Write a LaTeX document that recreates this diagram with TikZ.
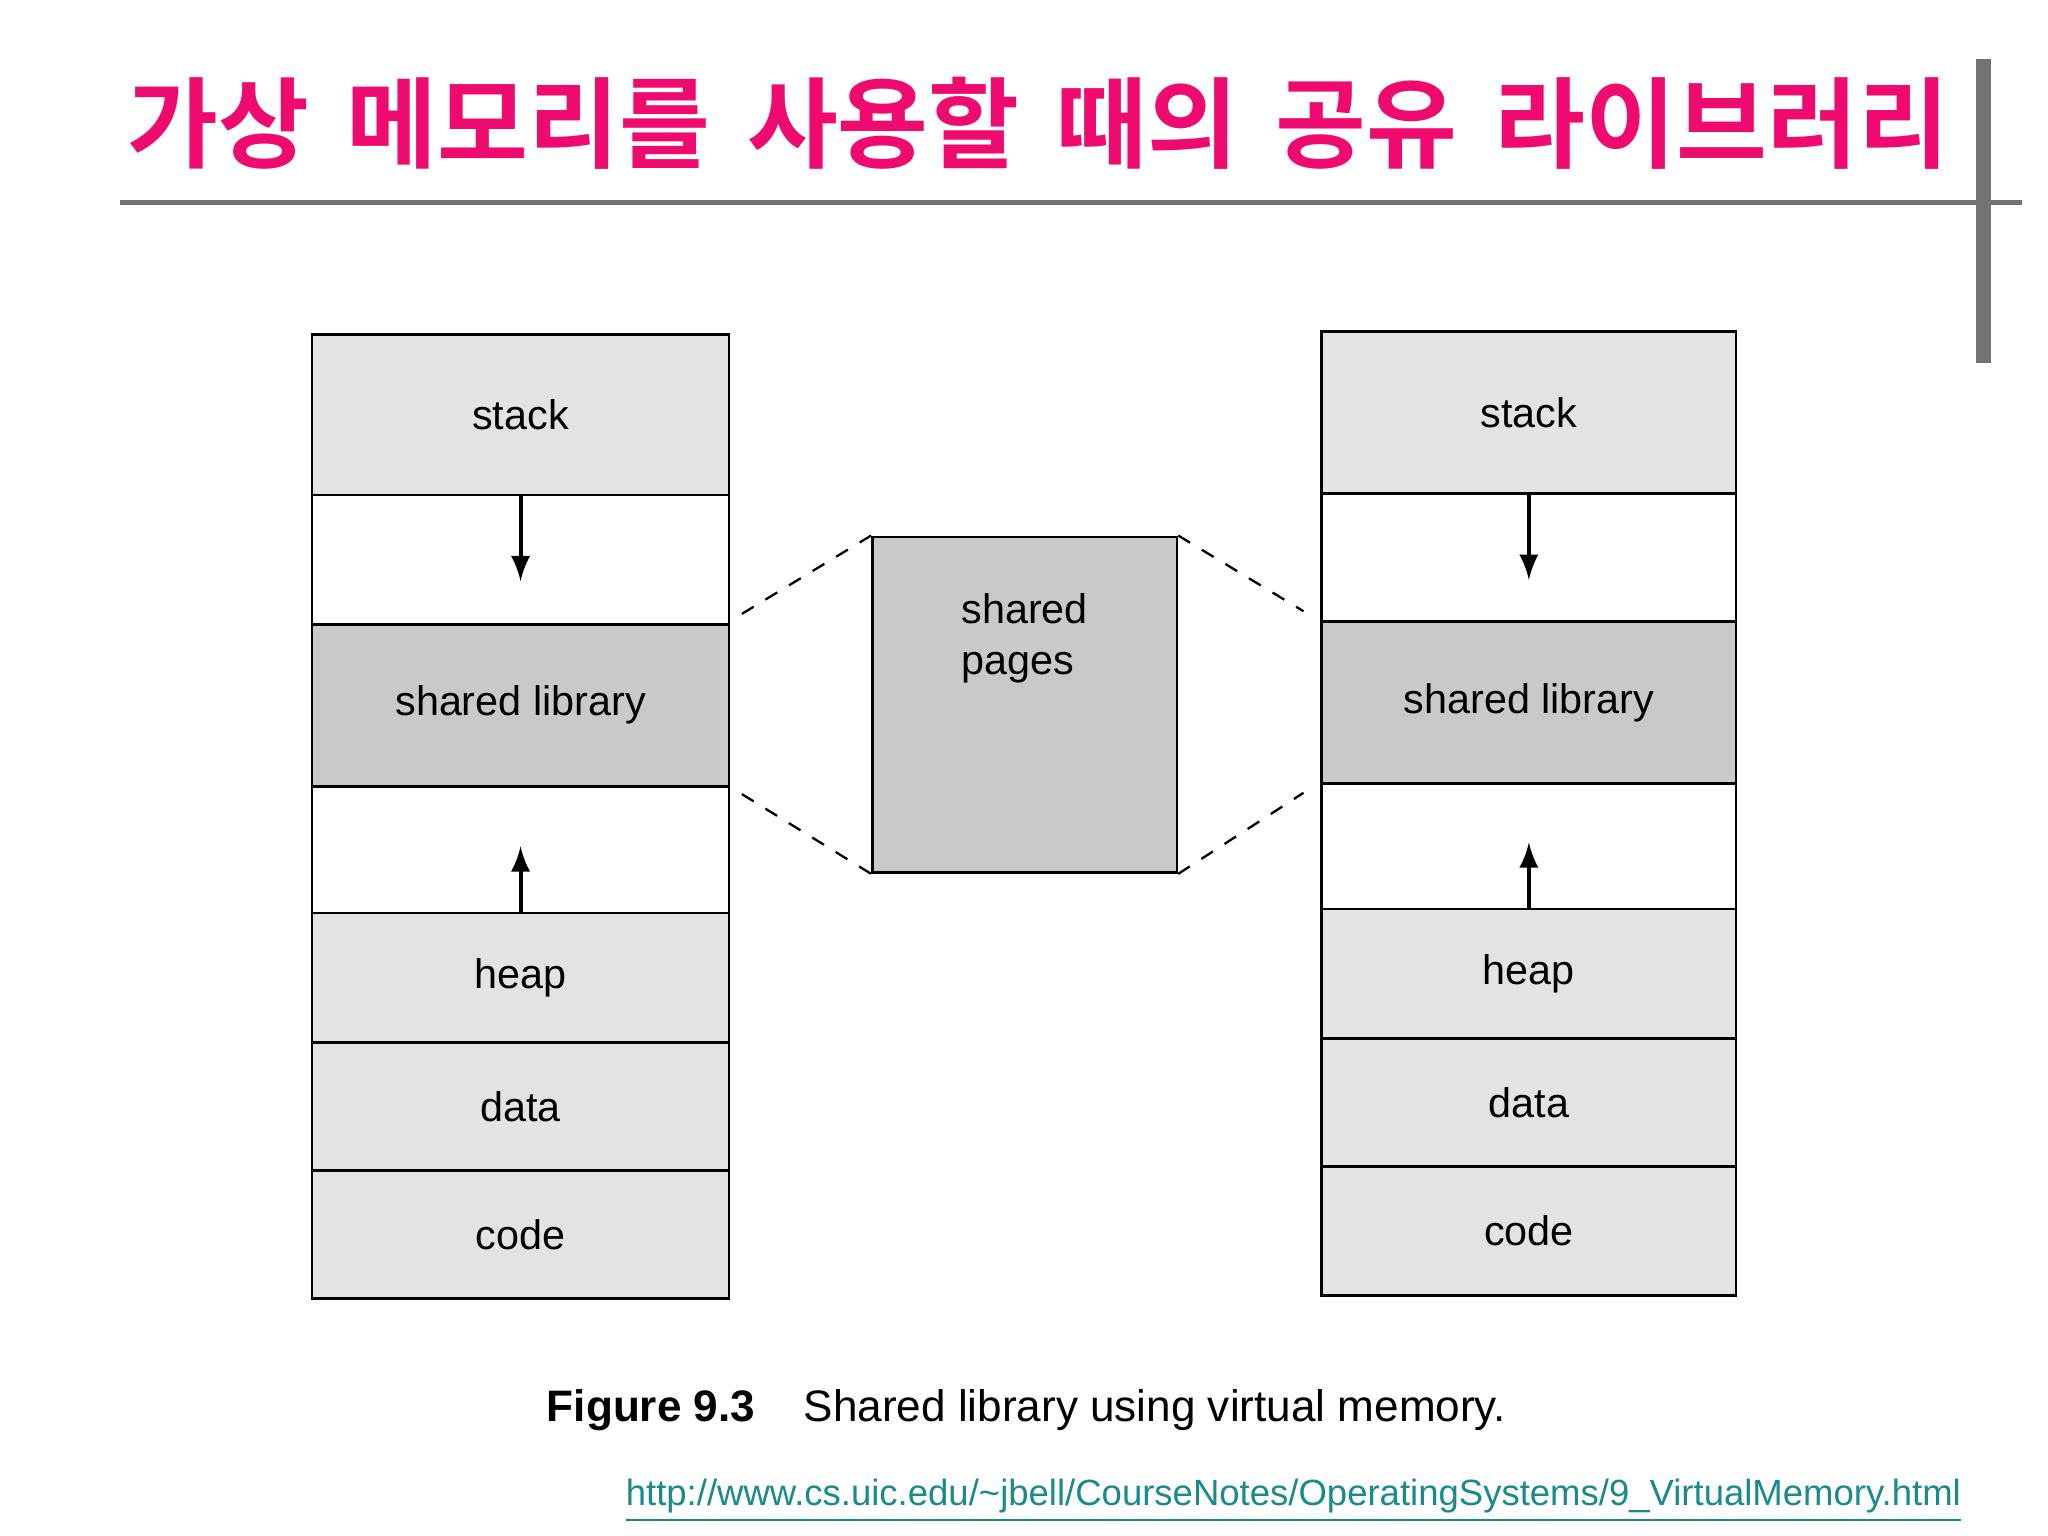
\documentclass[tikz,border=0pt]{standalone}
\usepackage{fontspec}
\setmainfont{Liberation Sans}
\newfontfamily\kr{Noto Sans CJK KR}[BoldFont={* Bold}]
\definecolor{ttl}{HTML}{EE0A6E}
\definecolor{lnk}{HTML}{1A8A8A}
\begin{document}
\begin{tikzpicture}[x=0.01cm,y=-0.01cm,
  cell/.style={draw=black,line width=0.55pt,fill=gray!22,anchor=north west,inner sep=0,font=\fontsize{9}{11}\selectfont},
  libcell/.style={cell,fill=gray!42},
  gap/.style={cell,fill=white},
  dsh/.style={dashed,line width=0.5pt},
  arr/.style={-latex,line width=0.9pt}]
\useasboundingbox (0,0) rectangle (1568,1176);
\node[anchor=base west,text=ttl,font=\kr\bfseries\fontsize{21.5}{26}\selectfont,inner sep=0] (title) at (97,123) {가상\hspace{0.15em} 메모리를\hspace{0.15em} 사용할\hspace{0.15em} 때의\hspace{0.15em} 공유\hspace{0.15em} 라이브러리};
\draw[gray!90!black,line width=1.2pt] (92,155) -- (1548,155);
\fill[gray!90!black] (1513,45) rectangle (1524,278);
\foreach \n/\t/\b/\s/\txt in {ls/255/378/cell/stack,lg1/378/477/gap/,ll/477/601/libcell/shared library,lg2/601/698/gap/,lh/698/797/cell/heap,ld/797/895/cell/data,lc/895/993/cell/code}
  \node[\s,minimum width=3.19cm,minimum height={(\b-\t)*0.01cm}] (\n) at (238,\t) {\txt};
\foreach \n/\t/\b/\s/\txt in {rs/253/377/cell/stack,rg1/377/475/gap/,rl/475/599/libcell/shared library,rg2/599/695/gap/,rh/695/794/cell/heap,rd/794/892/cell/data,rc/892/991/cell/code}
  \node[\s,minimum width=3.17cm,minimum height={(\b-\t)*0.01cm}] (\n) at (1011,\t) {\txt};
\node[libcell,minimum width=2.33cm,minimum height=2.57cm,align=left] (sp) at (667,410) {shared\\pages\\[2.2em]};
\draw[arr] (lg1.north) -- ++(0,67);
\draw[arr] (lg2.south) -- ++(0,-52);
\draw[arr] (rg1.north) -- ++(0,67);
\draw[arr] (rg2.south) -- ++(0,-52);
\coordinate (a1) at (568,470); \coordinate (a2) at (568,608);
\coordinate (b1) at (998,468); \coordinate (b2) at (998,607);
\draw[dsh] (a1) -- (sp.north west);
\draw[dsh] (a2) -- (sp.south west);
\draw[dsh] (sp.north east) -- (b1);
\draw[dsh] (sp.south east) -- (b2);
\node[anchor=base west,inner sep=0,font=\fontsize{9.6}{11}\selectfont] (cap) at (418,1088) {\textbf{Figure 9.3}\hspace{1.1em}Shared library using virtual memory.};
\node[anchor=base east,inner sep=0,text=lnk,font=\fontsize{7.95}{9}\selectfont] (url) at (1502,1153) {\underline{http://www.cs.uic.edu/\string~jbell/CourseNotes/OperatingSystems/9\_VirtualMemory.html}};
\end{tikzpicture}
\end{document}
